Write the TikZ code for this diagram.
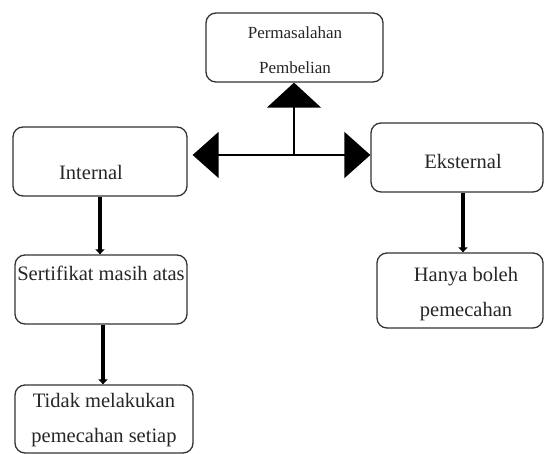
\documentclass[tikz,border=0pt]{standalone}
\usepackage{fontspec}
\setmainfont{Liberation Serif}
\usetikzlibrary{arrows.meta}
\begin{document}
\begin{tikzpicture}[x=1pt,y=-1pt,
  box/.style={draw=black!80,line width=1.3pt,rounded corners=10pt,inner sep=0pt},
  txt/.style={font=\fontsize{20.5}{35}\selectfont,text=black!85,inner sep=0pt,align=center},
  smalltxt/.style={font=\fontsize{17}{35}\selectfont,text=black!85,inner sep=0pt,align=center},
  thick/.style={line width=4.3pt,-{Triangle[length=5pt,width=9pt]}},
  big/.style={line width=1.8pt,-{Triangle[length=26pt,width=46pt]}},
  bigup/.style={line width=1.8pt,-{Triangle[length=25pt,width=54pt]}}]
\useasboundingbox (0,0) rectangle (544,454);
\node[box,minimum width=177pt,minimum height=69pt] (top) at (294.5,47.5) {};
\node[box,minimum width=174pt,minimum height=69pt] (int) at (100,161.5) {};
\node[box,minimum width=172pt,minimum height=69pt] (ext) at (457,157.5) {};
\node[box,minimum width=172pt,minimum height=69pt] (sert) at (101,289.5) {};
\node[box,minimum width=178pt,minimum height=68pt] (tid) at (104,419) {};
\node[box,minimum width=166pt,minimum height=75pt] (han) at (460,290.5) {};
\node[smalltxt] (ttop) at (295,50) {Permasalahan\\Pembelian};
\node[txt] (tint) at (91,172) {Internal};
\node[txt] (text) at (463,161) {Eksternal};
\node[txt] (tsert) at (101,273) {Sertifikat masih atas};
\node[txt] (ttid) at (104,420) {Tidak melakukan\\pemecahan setiap};
\node[txt] (than) at (466,294) {Hanya boleh\\pemecahan};
\coordinate (j) at (294,155);
\draw[bigup] (j) -- (j |- top.south);
\draw[big,shorten >=5pt] (j) -- (j -| int.east);
\draw[big] (j) -- (j -| ext.west);
\draw[thick] (int.south) -- (int.south |- sert.north);
\draw[thick] ([xshift=2pt]sert.south) -- ([xshift=2pt]sert.south |- tid.north);
\draw[thick] ([xshift=6pt]ext.south) -- ([xshift=6pt]ext.south |- han.north);
\end{tikzpicture}
\end{document}
